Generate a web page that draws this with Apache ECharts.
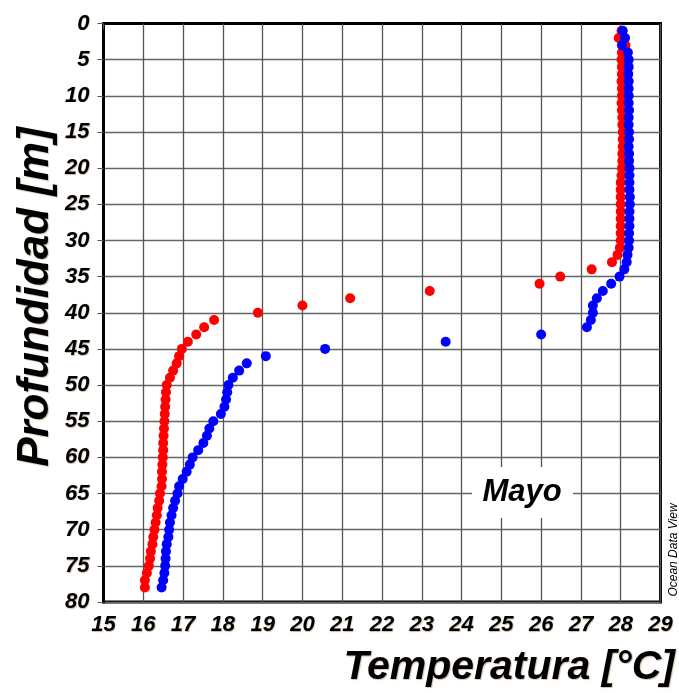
<!DOCTYPE html>
<html>
<head>
<meta charset="utf-8">
<script src="https://cdn.jsdelivr.net/npm/echarts@6/dist/echarts.min.js"></script>
<style>
html,body{margin:0;padding:0;background:#fff;}
#chart{width:679px;height:693px;}
</style>
</head>
<body>
<div id="chart"></div>
<script>
var depths = [1,2,3,4,5,6,7,8,9,10,11,12,13,14,15,16,17,18,19,20,
  21,22,23,24,25,26,27,28,29,30,31,32,33,34,35,36,37,38,39,40,
  41,42,43,44,45,46,47,48,49,50,51,52,53,54,55,56,57,58,59,60,
  61,62,63,64,65,66,67,68,69,70,71,72,73,74,75,76,77,78];

var redTemp = [28.02,27.95,28.12,28.03,28.02,28.03,28.03,28.02,28.03,28.03,
  28.02,28.03,28.04,28.04,28.05,28.05,28.05,28.04,28.04,28.03,
  28.02,28.0,28.0,28.0,28.0,28.0,28.0,28.0,28.0,28.0,
  27.98,27.92,27.78,27.27,26.48,25.96,23.2,21.2,20.0,18.88,
  17.78,17.53,17.33,17.12,16.97,16.9,16.84,16.75,16.67,16.59,
  16.57,16.56,16.55,16.54,16.53,16.52,16.51,16.5,16.5,16.49,
  16.48,16.47,16.47,16.46,16.42,16.4,16.36,16.34,16.31,16.28,
  16.25,16.23,16.19,16.17,16.14,16.09,16.04,16.04];

var blueTemp = [28.05,28.11,28.03,28.18,28.2,28.2,28.19,28.2,28.2,28.2,
  28.2,28.21,28.2,28.2,28.21,28.21,28.2,28.21,28.21,28.22,
  28.22,28.22,28.22,28.23,28.23,28.22,28.22,28.22,28.21,28.21,
  28.2,28.17,28.15,28.09,27.97,27.76,27.55,27.4,27.3,27.3,
  27.25,27.15,26.0,23.6,20.57,19.08,18.6,18.41,18.25,18.14,
  18.11,18.08,18.04,17.95,17.76,17.66,17.6,17.51,17.38,17.24,
  17.17,17.09,16.99,16.9,16.86,16.8,16.75,16.71,16.67,16.65,
  16.63,16.59,16.57,16.56,16.55,16.53,16.5,16.46];

var xTicks = [15,16,17,18,19,20,21,22,23,24,25,26,27,28,29];
var yTicks = [0,5,10,15,20,25,30,35,40,45,50,55,60,65,70,75,80];

function pairs(temps){
  var out = [];
  for (var i = 0; i < temps.length; i++) out.push([temps[i], depths[i]]);
  return out;
}

var labelFont = {
  color:'#000', fontFamily:'Liberation Sans, Arial, sans-serif',
  fontWeight:'bold', fontStyle:'italic', fontSize:22,
  textShadowColor:'rgba(140,100,40,0.45)', textShadowBlur:1,
  textShadowOffsetX:0.6, textShadowOffsetY:0.6
};

var chart = echarts.init(document.getElementById('chart'), null, {renderer:'canvas'});
chart.setOption({
  animation:false,
  backgroundColor:'#fff',
  grid:{left:103.5, right:18.5, top:23.5, bottom:91, show:true,
        borderColor:'#000', borderWidth:3, backgroundColor:'transparent'},
  xAxis:{
    type:'value', min:xTicks[0], max:xTicks[xTicks.length-1], interval:1,
    axisLine:{show:true, lineStyle:{color:'#000', width:3}},
    axisTick:{show:true, inside:false, length:6, lineStyle:{color:'#555', width:1}},
    axisLabel:Object.assign({margin:12}, labelFont),
    splitLine:{show:true, lineStyle:{color:'#555', width:1.3}}
  },
  yAxis:{
    type:'value', inverse:true, min:yTicks[0], max:yTicks[yTicks.length-1], interval:5,
    axisLine:{show:true, lineStyle:{color:'#000', width:3}},
    axisTick:{show:true, inside:false, length:6, lineStyle:{color:'#555', width:1}},
    axisLabel:Object.assign({margin:14}, labelFont),
    splitLine:{show:true, lineStyle:{color:'#666', width:1.3}}
  },
  series:[
    {type:'scatter', data:pairs(redTemp), symbol:'circle', symbolSize:10,
     itemStyle:{color:'#ff0000', opacity:1}, z:2},
    {type:'scatter', data:pairs(blueTemp), symbol:'circle', symbolSize:10,
     itemStyle:{color:'#0000ff', opacity:1}, z:3}
  ],
  graphic:[
    {type:'rect', shape:{x:472, y:467, width:101, height:51}, style:{fill:'#fff'}, z:10},
    {type:'text', x:522, y:492, z:11,
     style:{text:'Mayo', fill:'#000', font:'italic bold 31px "Liberation Sans", Arial, sans-serif',
            textAlign:'center', textVerticalAlign:'middle'}},
    {type:'text', x:36, y:297, rotation:Math.PI/2, z:11,
     style:{text:'Profundidad [m]', fill:'#000', font:'italic bold 44px "Liberation Sans", Arial, sans-serif',
            textAlign:'center', textVerticalAlign:'middle',
            textShadowColor:'rgba(140,100,40,0.4)', textShadowBlur:1, textShadowOffsetX:1, textShadowOffsetY:1}},
    {type:'text', x:675, y:668, z:11,
     style:{text:'Temperatura [°C]', fill:'#000', font:'italic bold 41px "Liberation Sans", Arial, sans-serif',
            textAlign:'right', textVerticalAlign:'middle',
            textShadowColor:'rgba(140,100,40,0.4)', textShadowBlur:1, textShadowOffsetX:1, textShadowOffsetY:1}},
    {type:'text', x:674, y:550, rotation:Math.PI/2, z:11,
     style:{text:'Ocean Data View', fill:'#000', font:'italic 12px "Liberation Sans", Arial, sans-serif',
            textAlign:'center', textVerticalAlign:'middle'}}
  ]
});
</script>
</body>
</html>
